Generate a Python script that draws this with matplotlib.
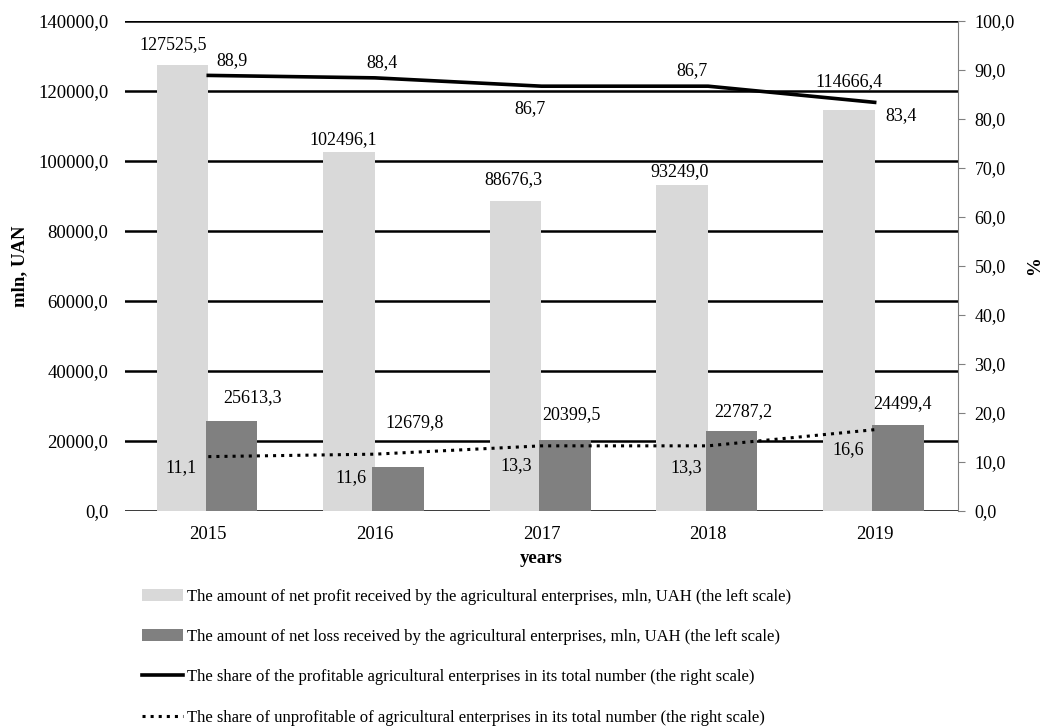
import matplotlib.pyplot as plt
import numpy as np
from matplotlib.ticker import FuncFormatter, MultipleLocator

# Net financial results of agricultural enterprises, 2015-2019
years = ["2015", "2016", "2017", "2018", "2019"]
net_profit = [127525.5, 102496.1, 88676.3, 93249.0, 114666.4]
net_loss = [25613.3, 12679.8, 20399.5, 22787.2, 24499.4]
share_profitable = [88.9, 88.4, 86.7, 86.7, 83.4]
share_unprofitable = [11.1, 11.6, 13.3, 13.3, 16.6]

# data label offsets in pixels (dx, dy), measured from the mark
profit_lbl_off = [(-9, 20), (-6, 13), (-2, 21), (-3, 13), (0, 28)]
loss_lbl_off = [(21, 24), (16, 44), (7, 25), (12, 20), (5, 22)]
prof_share_off = [(24, 15), (7, 15), (-11, -22), (-16, 16), (26, -13)]
unprof_share_off = [(-27, -11), (-24, -23), (-25, -20), (-22, -22), (-26, -20)]


def comma(v, pos=None):
    return f"{v:.1f}".replace(".", ",")


plt.rcParams["font.family"] = ["Liberation Serif", "DejaVu Serif"]
plt.rcParams["font.size"] = 13

fig, ax = plt.subplots(figsize=(10.45, 7.27), dpi=100)
fig.subplots_adjust(left=0.1196, right=0.9167, top=0.9711, bottom=0.2971)

x = np.arange(len(years))
w = 0.31
b1 = ax.bar(x - 0.155, net_profit, w, color="#d9d9d9", zorder=2,
            label="The amount of net profit received by the agricultural enterprises, mln, UAH (the left scale)")
b2 = ax.bar(x + 0.14, net_loss, w, color="#808080", zorder=3,
            label="The amount of net loss received by the agricultural enterprises, mln, UAH (the left scale)")

ax.set_ylim(0, 140000)
ax.set_xlim(-0.5, len(years) - 0.5)
ax.yaxis.set_major_locator(MultipleLocator(20000))
ax.yaxis.set_major_formatter(FuncFormatter(comma))
ax.grid(axis="y", color="black", linewidth=1.8, zorder=0)
ax.set_axisbelow(True)
for s in ax.spines.values():
    s.set_visible(False)
ax.tick_params(axis="y", length=0, pad=12, labelsize=13.5)
ax.tick_params(axis="x", length=0, pad=11, labelsize=13.5)
ax.set_xticks(x)
ax.set_xticklabels(years)
ax.set_ylabel("mln, UAN", fontweight="bold", fontsize=13.5, labelpad=7)
ax.set_xlabel("years", fontweight="bold", fontsize=13.5, labelpad=5)

for xi, v, off in zip(x - 0.155, net_profit, profit_lbl_off):
    ax.annotate(comma(v), (xi, v), xytext=off, textcoords="offset pixels",
                ha="center", va="center")
for xi, v, off in zip(x + 0.14, net_loss, loss_lbl_off):
    ax.annotate(comma(v), (xi, v), xytext=off, textcoords="offset pixels",
                ha="center", va="center")

ax2 = ax.twinx()
ax2.set_ylim(0, 100)
ax2.yaxis.set_major_locator(MultipleLocator(10))
ax2.yaxis.set_major_formatter(FuncFormatter(comma))
for s in ["top", "left", "bottom"]:
    ax2.spines[s].set_visible(False)
ax2.spines["right"].set_color("#808080")
ax2.tick_params(axis="y", length=5, color="#808080", pad=7, labelsize=13)
ax2.set_ylabel("%", fontweight="bold", fontsize=13.5, labelpad=8)

l1, = ax2.plot(x, share_profitable, color="black", linewidth=2.6,
               label="The share of the profitable agricultural enterprises in its total number (the right scale)")
l2, = ax2.plot(x, share_unprofitable, color="black", linewidth=2.2, linestyle=":",
               label="The share of unprofitable of agricultural enterprises in its total number (the right scale)")

for xi, v, off in zip(x, share_profitable, prof_share_off):
    ax2.annotate(comma(v), (xi, v), xytext=off, textcoords="offset pixels",
                 ha="center", va="center")
for xi, v, off in zip(x, share_unprofitable, unprof_share_off):
    ax2.annotate(comma(v), (xi, v), xytext=off, textcoords="offset pixels",
                 ha="center", va="center")

fig.legend(handles=[b1, b2, l1, l2], loc="upper left",
           bbox_to_anchor=(0.1295, 1 - 582 / 727), frameon=False,
           handlelength=2.45, handletextpad=0.25, labelspacing=1.46,
           borderaxespad=0, fontsize=12)

fig.savefig("out.png", dpi=100)
